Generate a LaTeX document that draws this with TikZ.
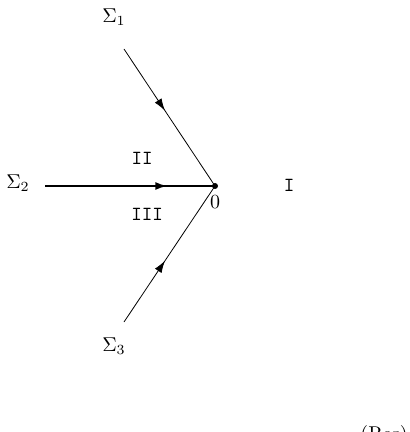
\documentclass[tikz,border=0pt]{standalone}
\usetikzlibrary{arrows.meta,decorations.markings}
\begin{document}
\begin{tikzpicture}[x=0.5pt,y=-0.5pt,
  thinline/.style={line width=0.4pt},
  thickline/.style={line width=1.1pt},
  arrowat/.style={postaction={decorate},decoration={markings,mark=at position #1 with {\arrow{Latex[length=6pt,width=4pt]}}}},
  lbl/.style={inner sep=0pt}]
\clip (0,0) rectangle (410,432);
\useasboundingbox (0,0) rectangle (410,432);
\coordinate (O) at (215,186);
\coordinate (A1) at (124,49);
\coordinate (A2) at (45,186);
\coordinate (A3) at (124,322);
\draw[thinline,arrowat=0.45] (A1) -- (O);
\draw[thinline,arrowat=0.45] (A3) -- (O);
\draw[thickline,arrowat=0.72] (A2) -- (O);
\fill (O) circle (3);
\node[lbl] (s1) at (114,17) {$\Sigma_1$};
\node[lbl] (s2) at (18,183) {$\Sigma_2$};
\node[lbl] (s3) at (114,346) {$\Sigma_3$};
\node[lbl] (r2) at (142,158) {\texttt{II}};
\node[lbl] (r3) at (147,214) {\texttt{III}};
\node[lbl] (r1) at (289,185) {\texttt{I}};
\node[lbl] (z) at (215,202) {$0$};
\node[lbl,anchor=north] (res) at (384,425) {(Res)};
\end{tikzpicture}
\end{document}
